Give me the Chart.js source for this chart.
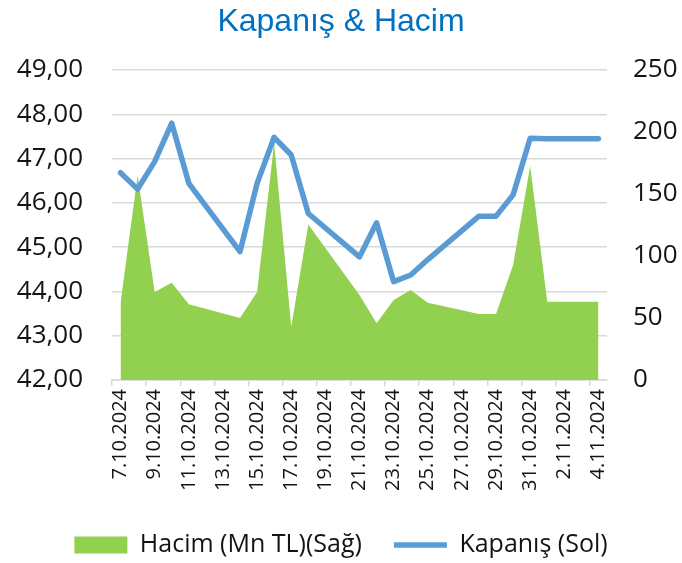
<!DOCTYPE html>
<html>
<head>
<meta charset="utf-8">
<script src="https://cdn.jsdelivr.net/npm/chart.js@4.4.0/dist/chart.umd.min.js"></script>
<style>
  html, body { margin: 0; padding: 0; background: #fff; }
</style>
</head>
<body>
<canvas id="chart" width="682" height="563"></canvas>
<script>
// DATA

const dates = [
  '7.10.2024', '8.10.2024', '9.10.2024', '10.10.2024', '11.10.2024', '12.10.2024', '13.10.2024',
  '14.10.2024', '15.10.2024', '16.10.2024', '17.10.2024', '18.10.2024', '19.10.2024', '20.10.2024',
  '21.10.2024', '22.10.2024', '23.10.2024', '24.10.2024', '25.10.2024', '26.10.2024', '27.10.2024',
  '28.10.2024', '29.10.2024', '30.10.2024', '31.10.2024', '1.11.2024', '2.11.2024', '3.11.2024',
  '4.11.2024'
];

// closing price, left axis (null = no trading)
const closePrices = [
  46.68, 46.31, 46.93, 47.80, 46.44, null, null,
  44.90, 46.44, 47.48, 47.08, 45.76, null, null,
  44.78, 45.55, 44.22, 44.37, 44.72, null, null,
  45.70, 45.70, 46.18, 47.46, 47.45, null, null,
  47.45
];

// volume (Mn TL), right axis
const volumes = [
  62, 165, 71, 78.5, 61, null, null,
  50, 71, 191, 43, 125.5, null, null,
  68.5, 45.7, 64.5, 72.6, 62.3, null, null,
  53.2, 53.2, 92.7, 172.6, 63.1, null, null,
  63.1
];

const leftRange = [42, 49];
const rightRange = [0, 250];

const gridGrey = '#d9d9d9';
const textDark = '#141414';

// CHART

const ctx = document.getElementById('chart');
new Chart(ctx, {
  type: 'line',
  data: {
    labels: dates,
    datasets: [
      {
        label: 'Kapanış (Sol)',
        data: closePrices,
        yAxisID: 'yLeft',
        borderColor: '#5b9bd5',
        backgroundColor: '#5b9bd5',
        borderWidth: 5.5,
        borderCapStyle: 'round',
        borderJoinStyle: 'round',
        pointRadius: 0,
        pointStyle: 'line',
        spanGaps: true,
        fill: false
      },
      {
        label: 'Hacim (Mn TL)(Sağ)',
        data: volumes,
        yAxisID: 'yRight',
        borderWidth: 0,
        borderColor: '#92d050',
        backgroundColor: '#92d050',
        pointRadius: 0,
        pointStyle: 'rect',
        spanGaps: true,
        fill: 'origin'
      }
    ]
  },
  options: {
    responsive: false,
    animation: false,
    layout: { padding: { top: 0, left: 0, right: 0, bottom: -4.5 } },
    plugins: {
      title: {
        display: true,
        text: 'Kapanış & Hacim',
        color: '#0070c0',
        font: { family: '"Liberation Sans", Arial, sans-serif', size: 32, weight: 'normal', lineHeight: 1.2 },
        padding: { top: 3, bottom: 28.6 }
      },
      legend: {
        position: 'bottom',
        labels: {
          usePointStyle: true,
          pointStyleWidth: 53,
          boxHeight: 17,
          padding: 32,
          color: textDark,
          font: { family: '"Open Sans", sans-serif', size: 25 },
          sort: (a, b) => b.datasetIndex - a.datasetIndex
        }
      },
      tooltip: { enabled: false }
    },
    scales: {
      x: {
        type: 'category',
        offset: true,
        afterFit: s => { s.height = 120.5; },
        grid: {
          offset: true,
          drawOnChartArea: false,
          drawTicks: true,
          tickLength: 6,
          lineWidth: 1.5,
          color: c => (c.index % 2 === 0 ? gridGrey : 'rgba(0,0,0,0)')
        },
        border: { display: true, color: gridGrey, width: 1.5 },
        ticks: {
          autoSkip: false,
          maxRotation: 90,
          minRotation: 90,
          padding: 3,
          color: textDark,
          font: { family: '"Open Sans", sans-serif', size: 20 },
          callback: (v, i) => (i % 2 === 0 ? dates[i] : '')
        }
      },
      yLeft: {
        position: 'left',
        min: leftRange[0],
        max: leftRange[1],
        afterFit: s => { s.width = 112; },
        grid: { color: gridGrey, lineWidth: 1.5, drawTicks: false },
        border: { display: false },
        ticks: {
          stepSize: 1,
          padding: 29,
          color: textDark,
          font: { family: '"Open Sans", sans-serif', size: 26 },
          callback: v => v.toFixed(2).replace('.', ',')
        }
      },
      yRight: {
        position: 'right',
        min: rightRange[0],
        max: rightRange[1],
        afterFit: s => { s.width = 75; },
        grid: { display: false, drawTicks: false },
        border: { display: false },
        ticks: {
          stepSize: 50,
          padding: 26,
          color: textDark,
          font: { family: '"Open Sans", sans-serif', size: 26 }
        }
      }
    }
  }
});
</script>
</body>
</html>
